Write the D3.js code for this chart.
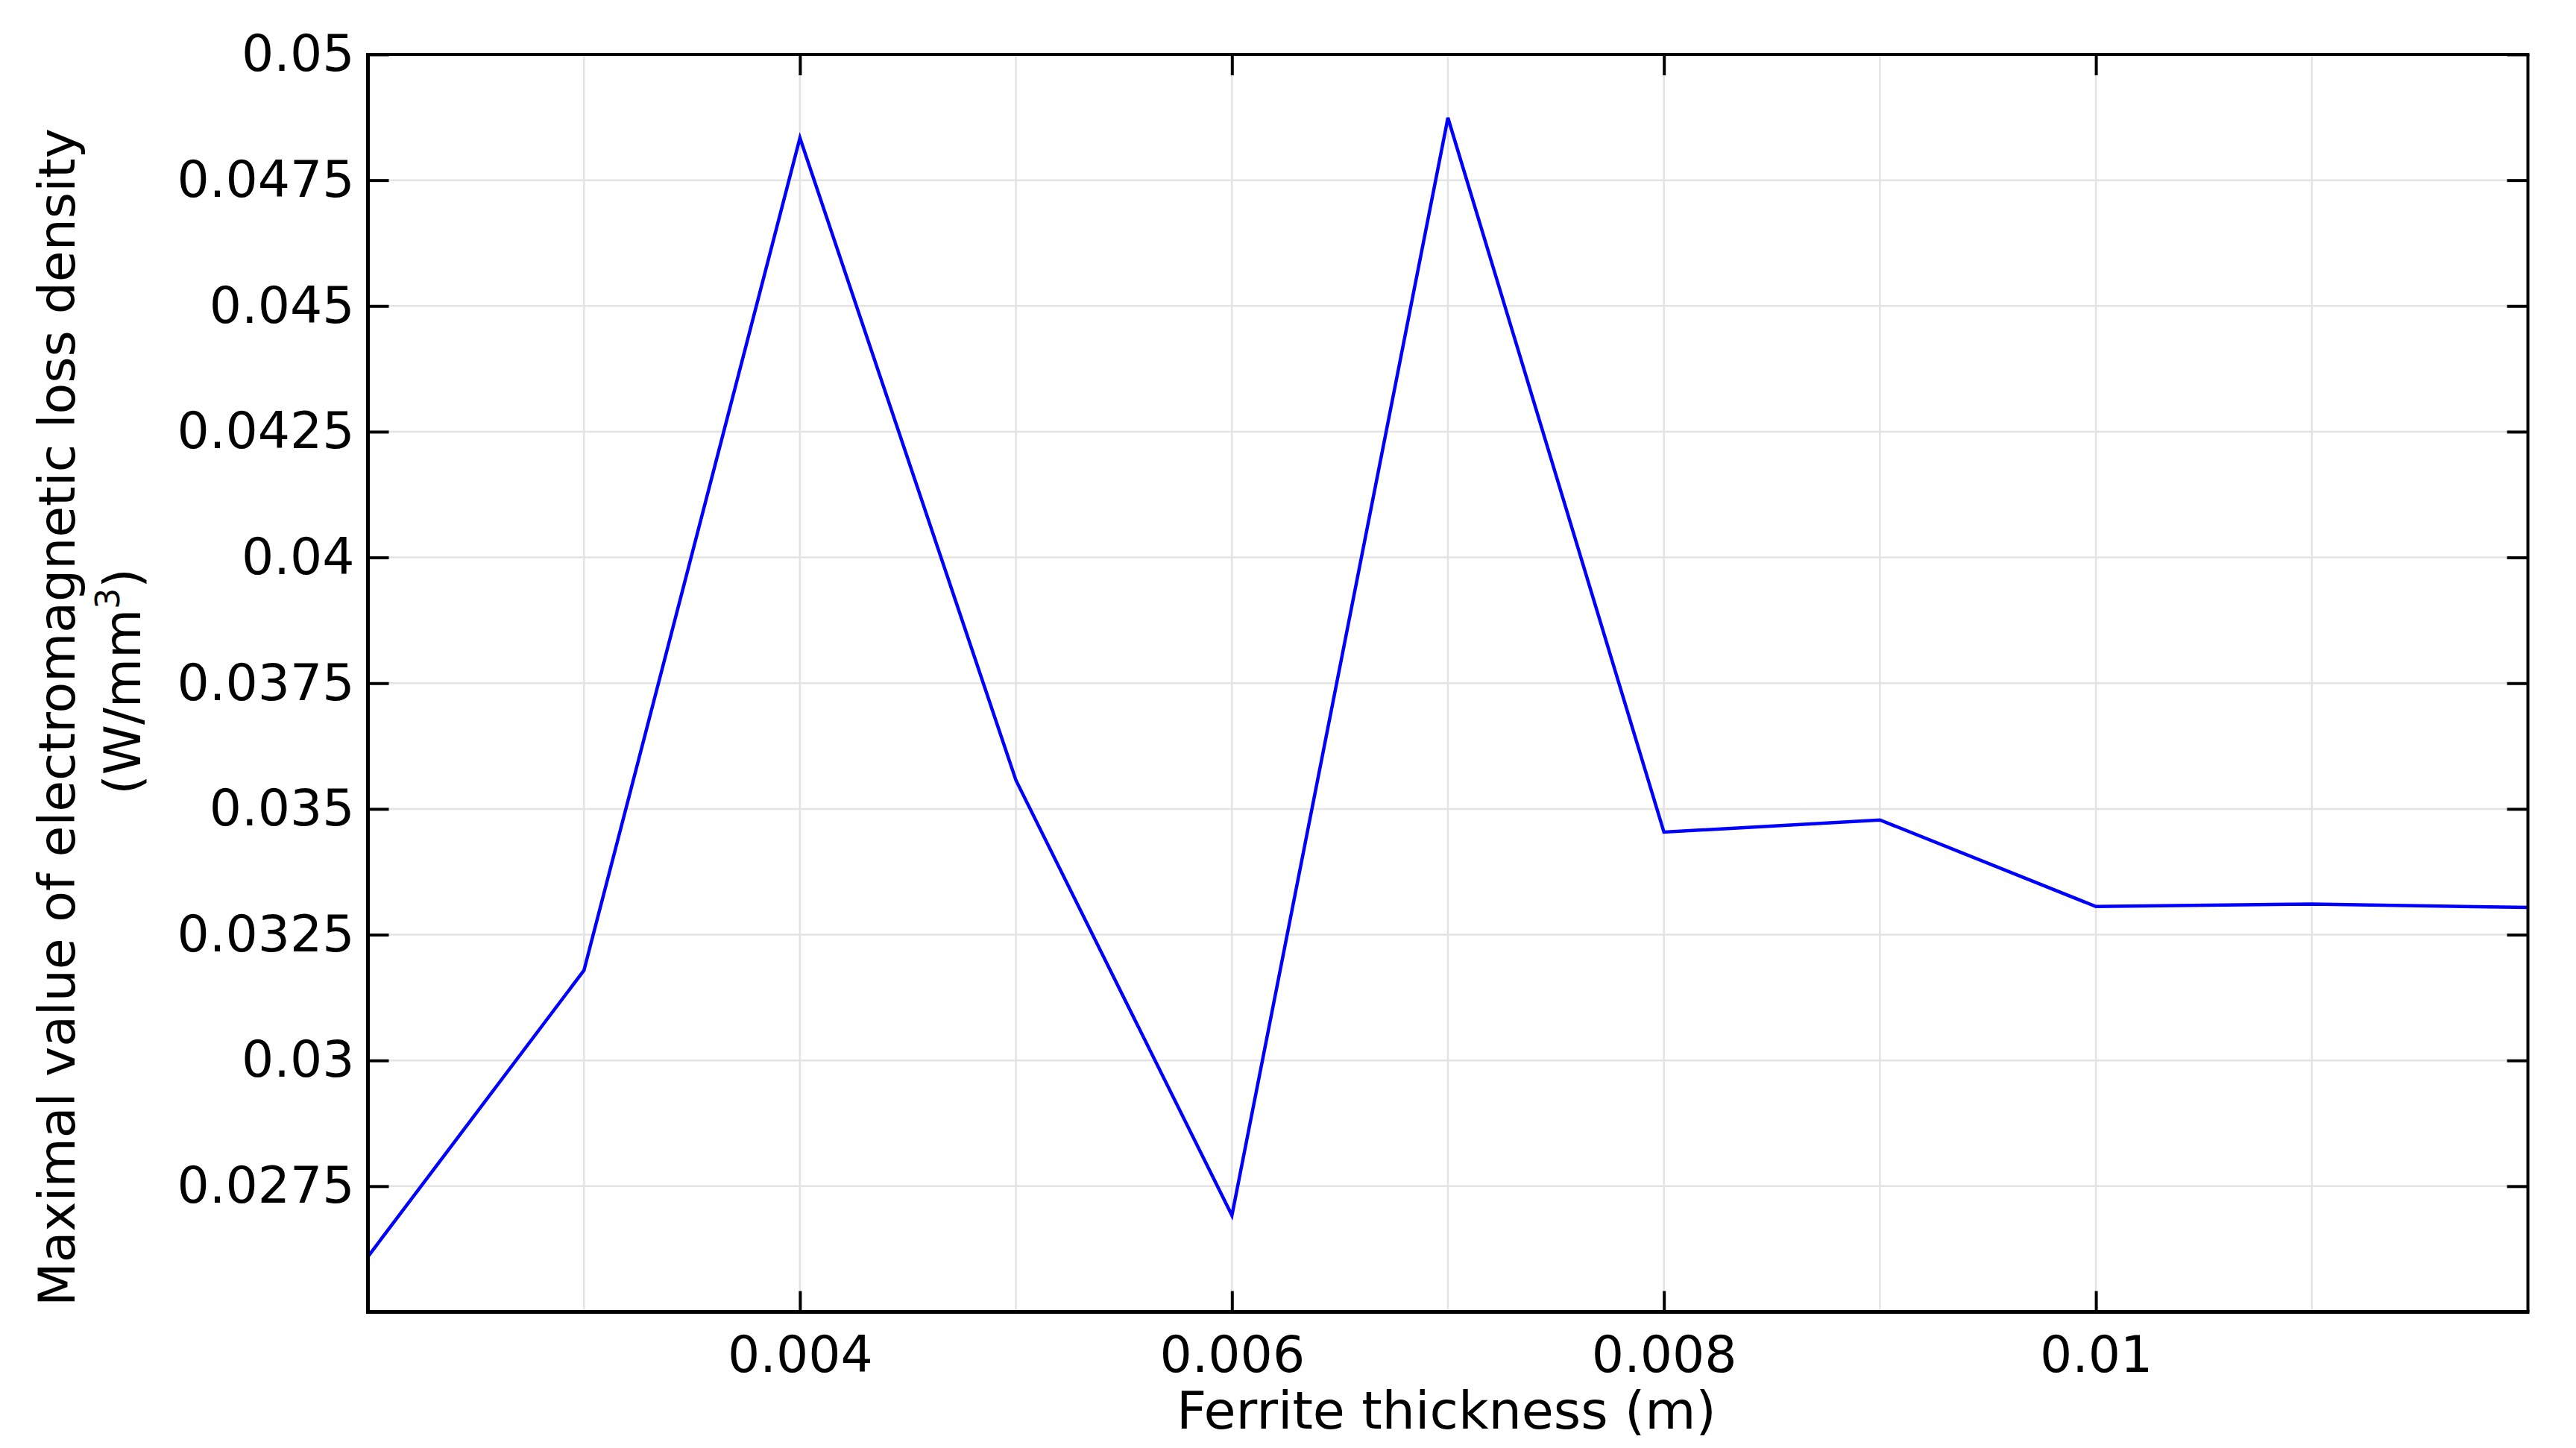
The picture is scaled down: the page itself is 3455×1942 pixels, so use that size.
<!DOCTYPE html>
<html><head><meta charset="utf-8">
<script src="https://cdn.jsdelivr.net/npm/d3@7"></script>
<style>html,body{margin:0;padding:0;background:#fff;}svg{display:block;}</style>
</head><body>
<svg id="chart" width="3455" height="1942"></svg>
<script>
const thickness = [0.002,0.003,0.004,0.005,0.006,0.007,0.008,0.009,0.010,0.011,0.012];
const lossDensity = [0.0261,0.03179,0.04834,0.03557,0.02692,0.04874,0.03454,0.03478,0.03306,0.03311,0.03304];
const xTicks = [0.004,0.006,0.008,0.010];
const xTickLabels = ["0.004","0.006","0.008","0.01"];
const xGrid = [0.003,0.004,0.005,0.006,0.007,0.008,0.009,0.010,0.011];
const yTicks = [0.0275,0.03,0.0325,0.035,0.0375,0.04,0.0425,0.045,0.0475,0.05];
const yTickLabels = ["0.0275","0.03","0.0325","0.035","0.0375","0.04","0.0425","0.045","0.0475","0.05"];
const xTitle = "Ferrite thickness (m)";
const yTitle1 = "Maximal value of electromagnetic loss density";

const L=493.5, R=3390.5, T=73, B=1759.5;
const FONT = "'DejaVu Sans', sans-serif";
const svg = d3.select("#chart");
const x = d3.scaleLinear().domain([0.002,0.012]).range([L,R]);
const y = d3.scaleLinear().domain([0.025,0.05]).range([B,T]);

// grid
svg.append("g").selectAll("line").data(xGrid).join("line")
  .attr("x1",d=>x(d)).attr("x2",d=>x(d)).attr("y1",T).attr("y2",B)
  .attr("stroke","#e3e3e3").attr("stroke-width",2.5);
svg.append("g").selectAll("line").data(yTicks).join("line")
  .attr("x1",L).attr("x2",R).attr("y1",d=>y(d)).attr("y2",d=>y(d))
  .attr("stroke","#e3e3e3").attr("stroke-width",2.5);

// data line
const line = d3.line().x((d,i)=>x(thickness[i])).y(d=>y(d));
svg.append("path").datum(lossDensity).attr("d",line)
  .attr("fill","none").attr("stroke","#0000ff").attr("stroke-width",4.5).attr("stroke-linejoin","miter");

// axes (inward ticks)
const tickLen = 28;
function styleAxis(g){
  g.select(".domain").remove();
  g.selectAll(".tick line").attr("stroke","#000").attr("stroke-width",4);
  g.selectAll("text").attr("font-family",FONT).attr("font-size",68).attr("fill","#000");
}
const xi = new Map(xTicks.map((d,i)=>[d,xTickLabels[i]]));
const yi = new Map(yTicks.map((d,i)=>[d,yTickLabels[i]]));
svg.append("g").attr("transform",`translate(0,${B})`)
  .call(d3.axisBottom(x).tickValues(xTicks).tickFormat(d=>xi.get(d)).tickSizeInner(-tickLen).tickPadding(32))
  .call(styleAxis);
svg.append("g").attr("transform",`translate(0,${T})`)
  .call(d3.axisTop(x).tickValues(xTicks).tickFormat("").tickSizeInner(-tickLen))
  .call(styleAxis);
svg.append("g").attr("transform",`translate(${L},0)`)
  .call(d3.axisLeft(y).tickValues(yTicks).tickFormat(d=>yi.get(d)).tickSizeInner(-tickLen).tickPadding(18))
  .call(styleAxis);
svg.append("g").attr("transform",`translate(${R},0)`)
  .call(d3.axisRight(y).tickValues(yTicks).tickFormat("").tickSizeInner(-tickLen))
  .call(styleAxis);

// frame
svg.append("line").attr("x1",L).attr("x2",L).attr("y1",T-2).attr("y2",B+2.5).attr("stroke","#000").attr("stroke-width",5);
svg.append("line").attr("x1",L-2.5).attr("x2",R+2).attr("y1",B).attr("y2",B).attr("stroke","#000").attr("stroke-width",5);
svg.append("line").attr("x1",L).attr("x2",R+2).attr("y1",T).attr("y2",T).attr("stroke","#000").attr("stroke-width",4);
svg.append("line").attr("x1",R).attr("x2",R).attr("y1",T).attr("y2",B).attr("stroke","#000").attr("stroke-width",4);

// titles
svg.append("text").attr("x",1940).attr("y",1916).attr("text-anchor","middle")
  .attr("font-family",FONT).attr("font-size",70).attr("fill","#000").text(xTitle);
const yt = svg.append("g");
yt.append("text").attr("transform","translate(100,962) rotate(-90)").attr("text-anchor","middle")
  .attr("font-family",FONT).attr("font-size",68).attr("fill","#000").text(yTitle1);
const t2 = yt.append("text").attr("transform","translate(188,914) rotate(-90)").attr("text-anchor","middle")
  .attr("font-family",FONT).attr("font-size",68).attr("fill","#000");
t2.append("tspan").text("(W/mm");
t2.append("tspan").attr("font-size",44).attr("dy",-28).text("3");
t2.append("tspan").attr("dy",28).text(")");
</script>
</body></html>
